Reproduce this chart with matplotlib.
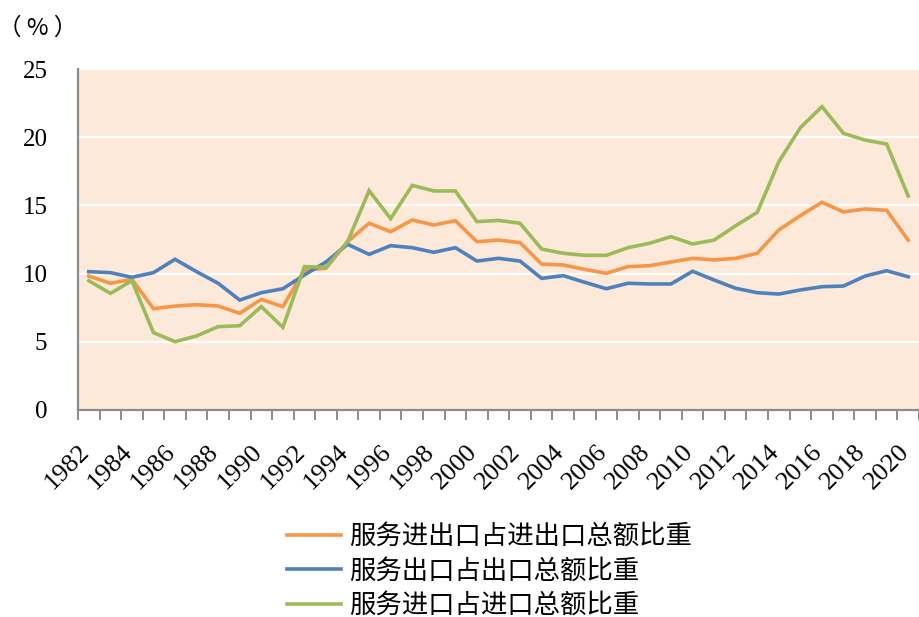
import numpy as np
import matplotlib
matplotlib.use('Agg')
import matplotlib.pyplot as plt
import matplotlib.transforms as mtransforms

# data (%)
years = list(range(1982, 2021))
total_share = [9.82, 9.29, 9.58, 7.43, 7.62, 7.72, 7.62, 7.09, 8.11, 7.58,
               10.26, 10.39, 12.34, 13.69, 13.07, 13.93, 13.56, 13.88, 12.34, 12.46,
               12.27, 10.70, 10.63, 10.31, 10.02, 10.51, 10.58, 10.85, 11.12, 11.00,
               11.12, 11.49, 13.20, 14.25, 15.23, 14.52, 14.74, 14.64, 12.46]
export_share = [10.14, 10.07, 9.73, 10.07, 11.05, 10.14, 9.29, 8.06, 8.60, 8.89,
                9.90, 10.85, 12.15, 11.41, 12.05, 11.90, 11.56, 11.90, 10.92, 11.12,
                10.92, 9.65, 9.85, 9.36, 8.89, 9.29, 9.24, 9.24, 10.17, 9.53,
                8.92, 8.60, 8.50, 8.80, 9.04, 9.09, 9.82, 10.21, 9.77]
import_share = [9.48, 8.55, 9.48, 5.67, 5.01, 5.43, 6.11, 6.18, 7.58, 6.06,
                10.51, 10.46, 12.34, 16.08, 14.03, 16.47, 16.06, 16.06, 13.81, 13.90,
                13.69, 11.80, 11.49, 11.34, 11.34, 11.90, 12.22, 12.71, 12.17, 12.46,
                13.51, 14.49, 18.20, 20.70, 22.24, 20.28, 19.79, 19.50, 15.69]
series_names = ['服务进出口占进出口总额比重', '服务出口占出口总额比重', '服务进口占进口总额比重']
series_colors = ['#F79646', '#4F81BD', '#9BBB59']

cjk = ['Liberation Serif', 'Noto Sans CJK SC']
plt.rcParams['font.family'] = cjk

fig = plt.figure(figsize=(9.19, 6.17), dpi=100)
ax = fig.add_axes([78 / 919, 1 - 410 / 617, 1 - 78 / 919, (410 - 69) / 617])
ax.set_facecolor('#FDE9D9')

x = np.arange(len(years))
for vals, name, col in zip([total_share, export_share, import_share], series_names, series_colors):
    ax.plot(x, vals, color=col, lw=2.6, label=name, solid_joinstyle='miter')

ax.set_xlim(-0.5, len(years) - 0.5)
ax.set_ylim(0, 25)
ax.set_yticks([0, 5, 10, 15, 20, 25])
ax.grid(axis='y', color='white', lw=1.6)
ax.set_axisbelow(True)

for s in ['top', 'right']:
    ax.spines[s].set_visible(False)
for s in ['left', 'bottom']:
    ax.spines[s].set_color('#8C8C8C')
    ax.spines[s].set_linewidth(1.6)

ax.tick_params(axis='y', length=0, pad=22, labelsize=18)

# category labels every two years, tick marks between categories
ax.set_xticks(x[::2])
ax.set_xticklabels([str(y) for y in years[::2]], rotation=45, ha='right', fontsize=19)
ax.set_xticks(np.arange(-0.5, len(years)), minor=True)
ax.tick_params(axis='x', which='major', length=0, pad=22)
ax.tick_params(axis='x', which='minor', length=7, width=1.4, color='#8C8C8C', direction='out')
offset = mtransforms.ScaledTranslation(5 / 100, 0, fig.dpi_scale_trans)
for lab in ax.get_xticklabels():
    lab.set_transform(lab.get_transform() + offset)

fig.text(38 / 919, 1 - 28 / 617, '（ % ）', fontsize=17, ha='center', va='center',
         family=['Noto Sans CJK SC', 'Liberation Serif'])

leg = ax.legend(loc='upper left', bbox_to_anchor=(274 / 919, 1 - 510 / 617),
                bbox_transform=fig.transFigure, frameon=False,
                handlelength=2.05, handletextpad=0.3, labelspacing=0.28, borderpad=0,
                prop={'family': ['Noto Sans CJK SC'], 'size': 19})

fig.savefig('out.png', dpi=100)
